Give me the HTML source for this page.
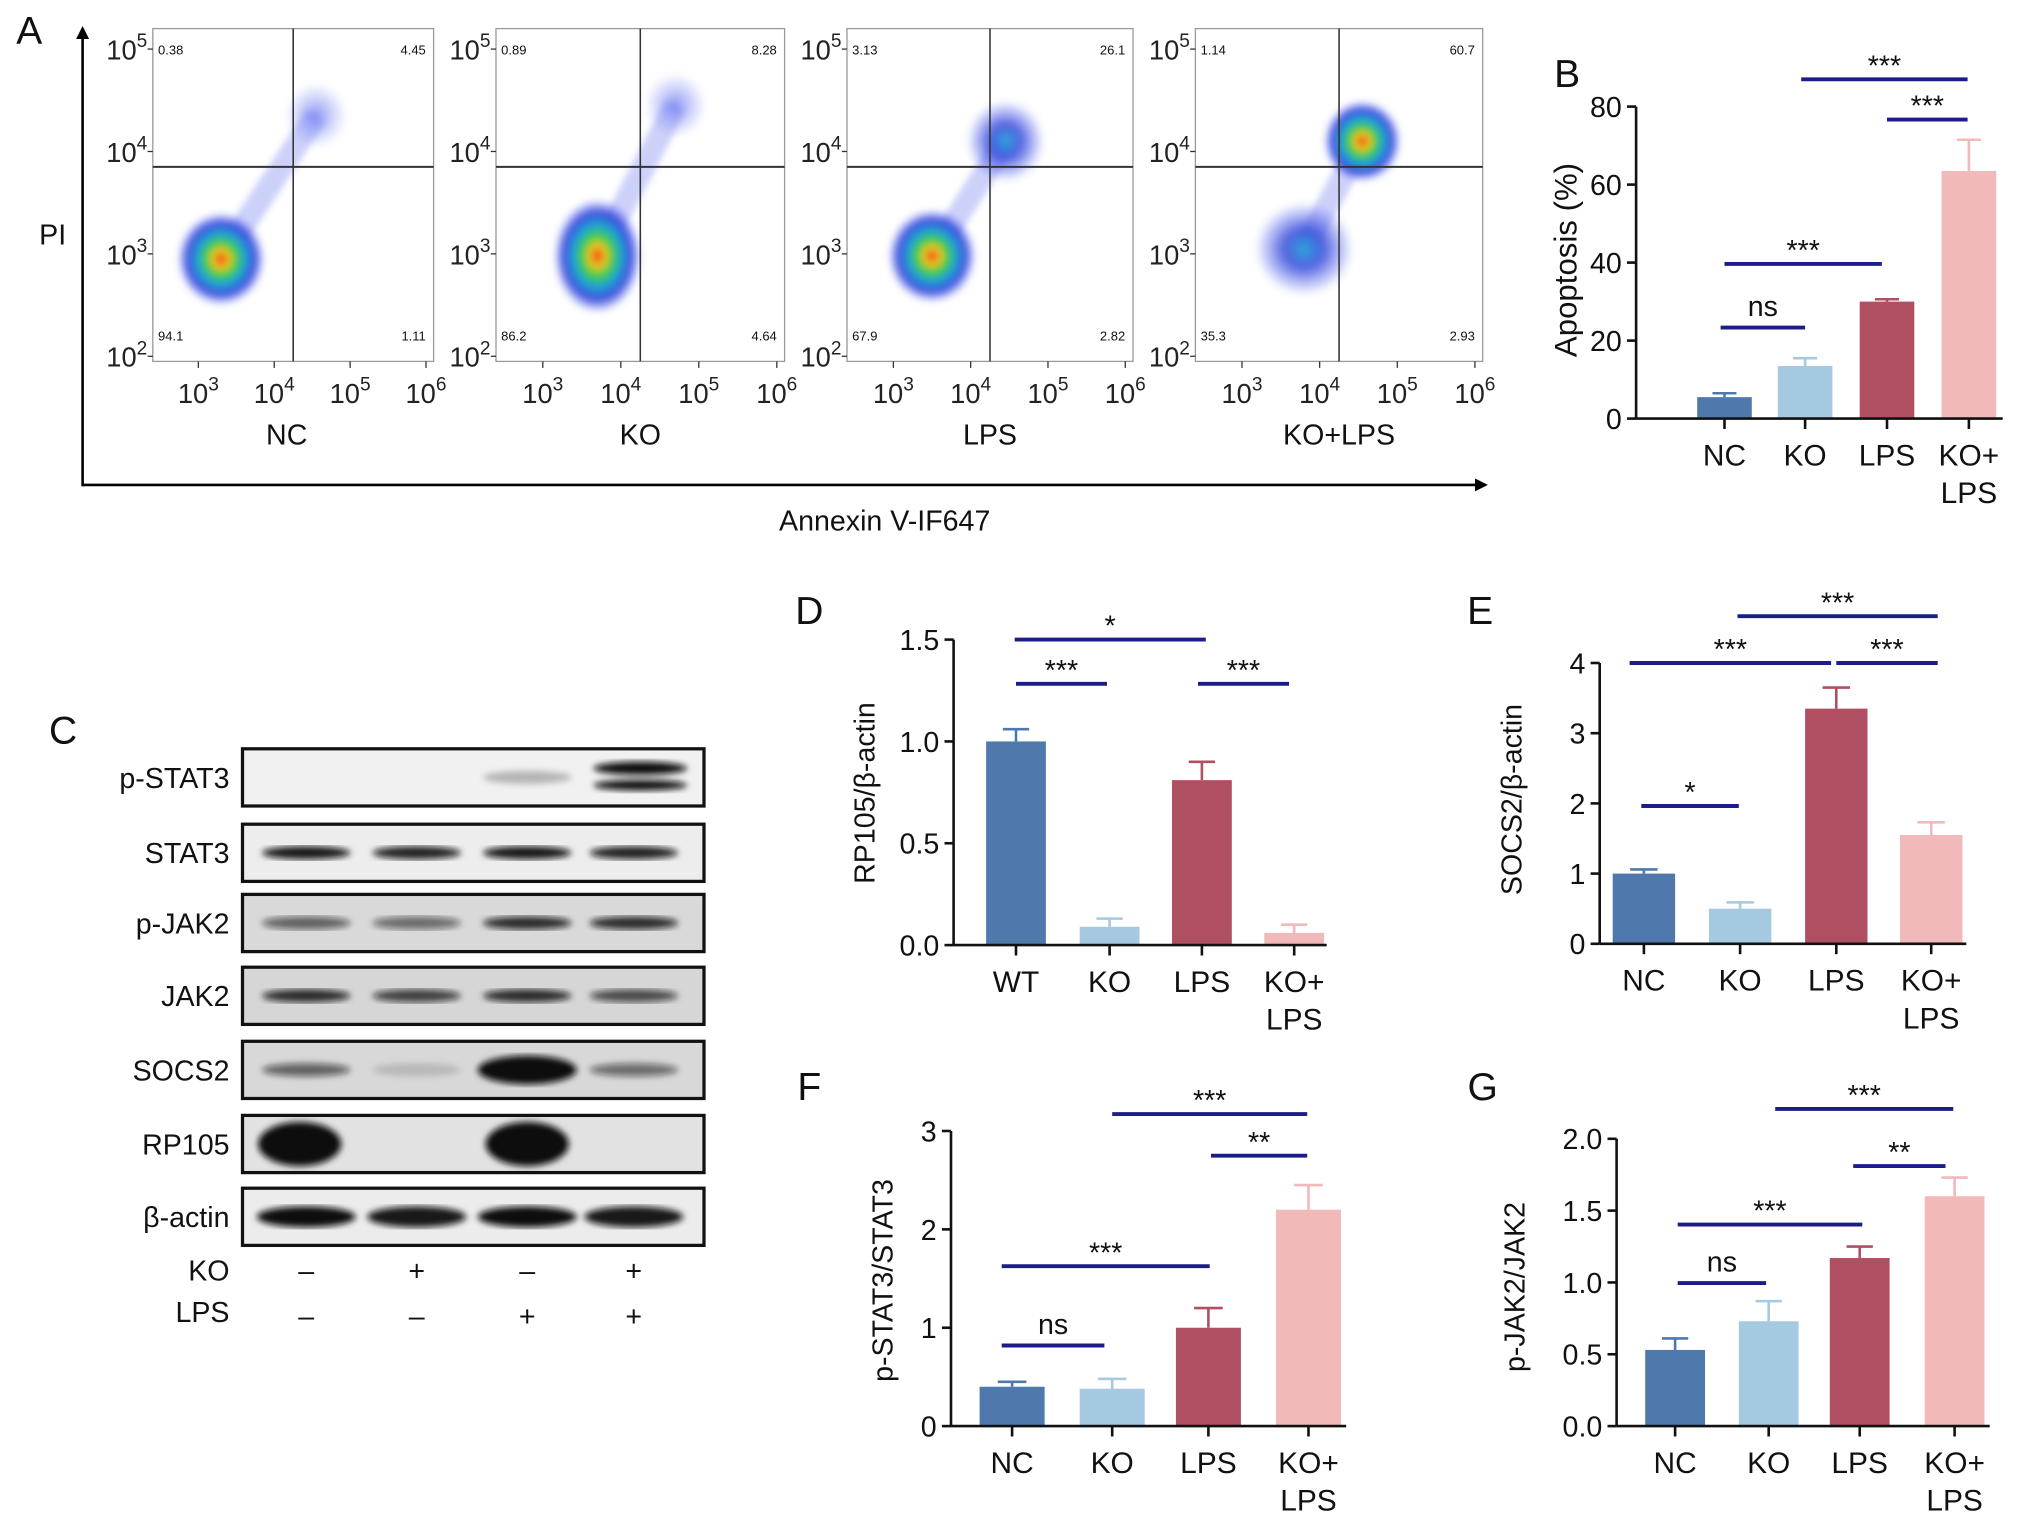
<!DOCTYPE html>
<html><head><meta charset="utf-8"><style>
html,body{margin:0;padding:0;background:#fff}
svg{display:block;font-family:"Liberation Sans",Arial,sans-serif}
</style></head><body>
<svg id="fig" width="2032" height="1521" viewBox="0 0 1562 1170" xmlns="http://www.w3.org/2000/svg">
<defs>
<radialGradient id="dens" cx="50%" cy="50%" r="50%">
<stop offset="0" stop-color="#e83a1a"/><stop offset="0.18" stop-color="#f2c21b"/><stop offset="0.35" stop-color="#3fcf4a"/><stop offset="0.55" stop-color="#1fa0d8"/><stop offset="0.75" stop-color="#2b3fd8" stop-opacity="0.9"/><stop offset="1" stop-color="#3a4cf0" stop-opacity="0"/>
</radialGradient>
<radialGradient id="densB" cx="50%" cy="50%" r="50%">
<stop offset="0" stop-color="#2aa8dc"/><stop offset="0.4" stop-color="#2b3fd8" stop-opacity="0.8"/><stop offset="1" stop-color="#3a4cf0" stop-opacity="0"/>
</radialGradient>
<radialGradient id="densS" cx="50%" cy="50%" r="50%">
<stop offset="0" stop-color="#5a6af0" stop-opacity="0.7"/><stop offset="1" stop-color="#7a86f5" stop-opacity="0"/>
</radialGradient>
<filter id="blur"><feGaussianBlur stdDeviation="2.5"/></filter>
<marker id="arr" markerWidth="10" markerHeight="10" refX="8" refY="5" orient="auto" markerUnits="userSpaceOnUse"><path d="M0,0 L10,5 L0,10 z" fill="#000"/></marker>
</defs>
<g id="root"></g>
</svg>
<script>
// ===== Data =====
const flowGroups = ["NC","KO","LPS","KO+LPS"];
const flowQuadUL = ["0.38","0.89","3.13","1.14"];
const flowQuadUR = ["4.45","8.28","26.1","60.7"];
const flowQuadLL = ["94.1","86.2","67.9","35.3"];
const flowQuadLR = ["1.11","4.64","2.82","2.93"];
// cluster centers in log10 units [x, y]
const flowMainX = [3.3, 3.7, 3.5, 3.8];
const flowMainY = [2.95, 2.98, 2.98, 3.05];
const flowUpX = [4.55, 4.7, 4.45, 4.55];
const flowUpY = [4.35, 4.45, 4.1, 4.1];
const flowUpDense = [0, 0, 1, 2];

const bCats = ["NC","KO","LPS","KO+\nLPS"];
const bVals = [5.5, 13.5, 30, 63.5];
const bErr = [1, 2, 0.6, 8];
const dCats = ["WT","KO","LPS","KO+\nLPS"];
const dVals = [1.0, 0.09, 0.81, 0.06];
const dErr = [0.06, 0.04, 0.09, 0.04];
const eCats = ["NC","KO","LPS","KO+\nLPS"];
const eVals = [1.0, 0.5, 3.35, 1.55];
const eErr = [0.06, 0.09, 0.3, 0.18];
const fCats = ["NC","KO","LPS","KO+\nLPS"];
const fVals = [0.4, 0.38, 1.0, 2.2];
const fErr = [0.05, 0.1, 0.2, 0.25];
const gCats = ["NC","KO","LPS","KO+\nLPS"];
const gVals = [0.53, 0.73, 1.17, 1.6];
const gErr = [0.08, 0.14, 0.08, 0.13];

const blotRows = ["p-STAT3","STAT3","p-JAK2","JAK2","SOCS2","RP105","β-actin"];
const blotIntensity = [[0,0,0.25,1],[0.95,0.9,0.95,0.9],[0.6,0.55,0.85,0.85],[0.85,0.75,0.85,0.7],[0.6,0.15,1,0.55],[1,0,1,0],[1,0.95,1,0.95]];
const koSigns = ["–","+","–","+"];
const lpsSigns = ["–","–","+","+"];

const colors = ["#4f79ad","#a5c9e0","#b04f62","#f1b9b9"];
const NS = "http://www.w3.org/2000/svg";
const root = document.getElementById("root");
function mk(tag, attrs, parent, text){
  const e = document.createElementNS(NS, tag);
  for (const k in attrs) e.setAttribute(k, attrs[k]);
  if (text !== undefined) e.textContent = text;
  (parent || root).appendChild(e);
  return e;
}
function txt(x,y,s,size,anchor,parent){
  const t = mk("text",{x:x,y:y,"font-size":size,"text-anchor":anchor||"middle",fill:"#111"},parent,s);
  return t;
}
function sup(x,y,base,exp,size,parent){
  const t = mk("text",{x:x,y:y,"font-size":size,"text-anchor":"middle",fill:"#222"},parent);
  const a = mk("tspan",{},t,base);
  const b = mk("tspan",{dy:-size*0.45,"font-size":size*0.7},t,exp);
  return t;
}

// ===== Panel A =====
const gA = mk("g",{});


const lA = txt(22,34,"A",30,"middle",gA);


const ax1 = mk("line",{x1:63,y1:374,x2:63,y2:22,stroke:"#000","stroke-width":2,"marker-end":"url(#arr)"},gA);


const ax2 = mk("line",{x1:63,y1:373,x2:1142,y2:373,stroke:"#000","stroke-width":2,"marker-end":"url(#arr)"},gA);


const pit = txt(40,188,"PI",22,"middle",gA);


const ant = txt(680,408,"Annexin V-IF647",22,"middle",gA);



const boxX = [117,381,651,919];
const boxW = [216,222,220,221];
flowGroups.forEach((g,i)=>{
  const x0 = boxX[i], w = boxW[i], y0 = 22, h = 256;
  const pg = mk("g",{},gA);
  
  
  const xs = v => x0 + (v-2.4)/(6.1-2.4)*w;
  const ys = v => y0 + h - (v-1.95)/(5.2-1.95)*h;
  mk("rect",{x:x0,y:y0,width:w,height:h,fill:"#fff",stroke:"#999","stroke-width":1},pg);
  const upG = mk("g",{filter:"url(#blur)"},pg);
  mk("line",{x1:xs(flowMainX[i]),y1:ys(flowMainY[i]),x2:xs(flowUpX[i]),y2:ys(flowUpY[i]),stroke:"#6f7cf0","stroke-opacity":0.35,"stroke-width":18},upG);
  const upFill = flowUpDense[i]===2 ? "url(#dens)" : flowUpDense[i]===1 ? "url(#densB)" : "url(#densS)";
  const upR = flowUpDense[i]===0 ? 24 : 30;
  mk("ellipse",{cx:xs(flowUpX[i]),cy:ys(flowUpY[i]),rx:upR,ry:upR*1.05,fill:upFill},upG);
  mk("ellipse",{cx:xs(flowMainX[i]),cy:ys(flowMainY[i]),rx:i===3?38:34,ry:i===1?44:36,fill:i===3?"url(#densB)":"url(#dens)"},upG);
  const qx = xs(4.25), qy = ys(3.85);
  mk("line",{x1:qx,y1:y0,x2:qx,y2:y0+h,stroke:"#333","stroke-width":1.2},pg);
  mk("line",{x1:x0,y1:qy,x2:x0+w,y2:qy,stroke:"#333","stroke-width":1.5},pg);
  txt(x0+4,y0+20,flowQuadUL[i],10,"start",pg);
  txt(x0+w-6,y0+20,flowQuadUR[i],10,"end",pg);
  txt(x0+4,y0+h-16,flowQuadLL[i],10,"start",pg);
  txt(x0+w-6,y0+h-16,flowQuadLR[i],10,"end",pg);
  [2,3,4,5].forEach(e=>{
    const y = ys(e);
    mk("line",{x1:x0-4,y1:y,x2:x0,y2:y,stroke:"#333"},pg);
    sup(x0-20,y+8,"10",String(e),21,pg);
  });
  [3,4,5,6].forEach(e=>{
    const x = xs(e);
    mk("line",{x1:x,y1:y0+h,x2:x,y2:y0+h+5,stroke:"#333"},pg);
    sup(x,y0+h+32,"10",String(e),21,pg);
  });
  const gl = txt(x0+w/2+ (i===0?-5:0),y0+h+64,g,22,"middle",pg);
  
  
});

// ===== Bar chart helper =====
function barChart(o){
  const g = mk("g",{});
  
  
  const yS = v => o.y0 - (v - o.min)/(o.max - o.min)*(o.y0 - o.y1);
  const lab = txt(o.lx,o.ly,o.letter,30,"middle",g);
  
  
  const yAx = mk("line",{x1:o.ax,y1:yS(o.max),x2:o.ax,y2:o.y0,stroke:"#111","stroke-width":2},g);
  
  
  o.ticks.forEach((t,k)=>{
    const y = yS(t);
    mk("line",{x1:o.ax-7,y1:y,x2:o.ax,y2:y,stroke:"#111","stroke-width":2},g);
    const tl = txt(o.ax-11,y+8,o.tickLabels[k],22,"end",g);
    
    
  });
  const yt = mk("text",{x:0,y:0,"font-size":o.tsize||22,"text-anchor":"middle",fill:"#111",transform:`translate(${o.tx},${o.ty}) rotate(-90)`},g,o.title);
  
  
  o.vals.forEach((v,k)=>{
    const cx = o.cx[k];
    const top = yS(v), etop = yS(v + o.err[k]);
    const eb = mk("line",{x1:cx,y1:etop,x2:cx,y2:top,stroke:colors[k],"stroke-width":2},g);
    
    
    mk("line",{x1:cx-o.bw*0.22,y1:etop,x2:cx+o.bw*0.22,y2:etop,stroke:colors[k],"stroke-width":2},g);
    const r = mk("rect",{x:cx-o.bw/2,y:top,width:o.bw,height:o.y0-top,fill:colors[k]},g);
    
    
    mk("line",{x1:cx,y1:o.y0,x2:cx,y2:o.y0+8,stroke:"#111","stroke-width":2},g);
    const parts = o.cats[k].split("\n");
    parts.forEach((p,pi)=>{
      const xl = txt(cx,o.y0+36+pi*29,p,23,"middle",g);
      
      
    });
  });
  const xAx = mk("line",{x1:o.ax,y1:o.y0,x2:o.xEnd,y2:o.y0,stroke:"#111","stroke-width":2},g);
  
  
  o.brackets.forEach(b=>{
    const bl = mk("line",{x1:b[0],y1:b[2],x2:b[1],y2:b[2],stroke:"#1d1d8a","stroke-width":3},g);
    
    
    const st = txt((b[0]+b[1])/2,b[2]-(b[3]==="ns"?9:3),b[3],22,"middle",g);
    
    
  });
}

barChart({name:"panel-b-apoptosis-chart",letter:"B",lx:1205,ly:67,ax:1258,y0:322,y1:82,min:0,max:80,
  ticks:[0,20,40,60,80],tickLabels:["0","20","40","60","80"],title:"Apoptosis (%)",tx:1212,ty:200,tsize:24,
  cats:bCats,vals:bVals,err:bErr,cx:[1326,1388,1451,1514],bw:42,xEnd:1540,
  brackets:[[1323,1388,252,"ns"],[1326,1447,203,"***"],[1385,1513,61,"***"],[1451,1513,92,"***"]]});
barChart({name:"panel-d-rp105-chart",letter:"D",lx:622,ly:480,ax:733,y0:727,y1:492,min:0,max:1.5,
  ticks:[0,0.5,1,1.5],tickLabels:["0.0","0.5","1.0","1.5"],title:"RP105/β-actin",tx:672,ty:610,
  cats:dCats,vals:dVals,err:dErr,cx:[781,853,924,995],bw:46,xEnd:1020,
  brackets:[[780,927,492,"*"],[781,851,526,"***"],[921,991,526,"***"]]});
barChart({name:"panel-e-socs2-chart",letter:"E",lx:1138,ly:480,ax:1230,y0:726,y1:510,min:0,max:4,
  ticks:[0,1,2,3,4],tickLabels:["0","1","2","3","4"],title:"SOCS2/β-actin",tx:1170,ty:615,
  cats:eCats,vals:eVals,err:eErr,cx:[1264,1338,1412,1485],bw:48,xEnd:1512,
  brackets:[[1336,1490,474,"***"],[1253,1408,510,"***"],[1412,1490,510,"***"],[1262,1337,620,"*"]]});
barChart({name:"panel-f-pstat3-chart",letter:"F",lx:622,ly:846,ax:731,y0:1097,y1:870,min:0,max:3,
  ticks:[0,1,2,3],tickLabels:["0","1","2","3"],title:"p-STAT3/STAT3",tx:686,ty:985,
  cats:fCats,vals:fVals,err:fErr,cx:[778,855,929,1006],bw:50,xEnd:1035,
  brackets:[[855,1005,857,"***"],[931,1005,889,"**"],[770,930,974,"***"],[770,849,1035,"ns"]]});
barChart({name:"panel-g-pjak2-chart",letter:"G",lx:1140,ly:846,ax:1243,y0:1097,y1:876,min:0,max:2,
  ticks:[0,0.5,1,1.5,2],tickLabels:["0.0","0.5","1.0","1.5","2.0"],title:"p-JAK2/JAK2",tx:1172,ty:990,
  cats:gCats,vals:gVals,err:gErr,cx:[1288,1360,1430,1503],bw:46,xEnd:1530,
  brackets:[[1365,1502,853,"***"],[1425,1496,897,"**"],[1290,1432,942,"***"],[1290,1358,987,"ns"]]});

// ===== Panel C western blot =====
const gC = mk("g",{});


const lC = txt(48,572,"C",30,"middle",gC);


const rowTop = [576,634,688,744,801,858,914];
const rowBg = ["#f1f1f1","#ededed","#d9d9d9","#d6d6d6","#d8d8d8","#e2e2e2","#ececec"];
const lanes = [235,320,405,487];
blotRows.forEach((r,i)=>{
  const y = rowTop[i], h = 44;
  const rg = mk("g",{},gC);
  
  
  mk("rect",{x:186,y:y,width:355,height:h,fill:rowBg[i],stroke:"#111","stroke-width":2.5},rg);
  const bg = mk("g",{filter:"url(#blur)"},rg);
  lanes.forEach((lx,k)=>{
    const a = blotIntensity[i][k];
    if (a<=0) return;
    let ry = 5, rx = 34;
    if (r==="RP105") { ry = 17; rx = 32; }
    if (r==="SOCS2" && k===2) { ry = 11; rx=38; }
    if (r==="β-actin") { ry = 8; rx=38; }
    if (r==="p-STAT3" && k===3) {
      mk("ellipse",{cx:lx+5,cy:y+15,rx:36,ry:5,fill:"#111","fill-opacity":a},bg);
      mk("ellipse",{cx:lx+5,cy:y+28,rx:36,ry:4,fill:"#111","fill-opacity":a},bg);
      return;
    }
    mk("ellipse",{cx:lx+(r==="RP105"&&k===0?-5:0),cy:y+h/2,rx:rx,ry:ry,fill:"#111","fill-opacity":a},bg);
  });
  const rl = txt(176,y+h/2+8,r,22,"end",gC);
  
  
});
const koL = txt(176,985,"KO",22,"end",gC);


const lpsL = txt(176,1017,"LPS",22,"end",gC);


lanes.forEach((lx,k)=>{
  const a = txt(lx,985,koSigns[k],22,"middle",gC);
  
  
  const b = txt(lx,1020,lpsSigns[k],22,"middle",gC);
  
  
});
</script>
</body></html>
